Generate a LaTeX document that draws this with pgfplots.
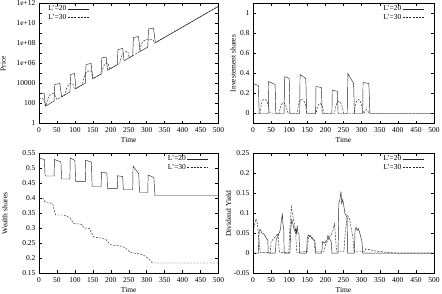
\documentclass[border=0pt]{standalone}
\usepackage{fontspec}
\setmainfont{Liberation Serif}
\usepackage{pgfplots}
\pgfplotsset{compat=1.18}

\newcommand{\smallfont}{\fontsize{7.5}{8.5}\selectfont}

\pgfplotsset{
  panel/.style={
    scale only axis, height=120pt,
    xmin=0, xmax=500, xtick={0,50,...,500},
    tick align=inside, major tick length=3pt, minor tick length=3pt,
    tick style={black, line width=0.4pt},
    axis line style={black, line width=0.5pt},
    ticklabel style={font=\smallfont},
    /pgf/number format/assume math mode=true,
    scaled ticks=false,
    xlabel={Time},
    every axis x label/.style={at={(axis description cs:0.5,0)}, anchor=center, yshift=-17pt, font=\smallfont},
    legend style={draw=none, fill=none, font=\smallfont, inner sep=0pt,
      row sep=-0.3pt, nodes={inner sep=1pt}},
    legend cell align=right, legend plot pos=right,
    legend image code/.code={\draw[##1] (0pt,0pt) -- (21pt,0pt);},
  },
  legTL/.style={legend style={at={(axis description cs:0.045,0.99)}, anchor=north west}},
  legTR/.style={legend style={at={(axis description cs:0.945,0.99)}, anchor=north east}},
  ylab/.style={every axis y label/.style={at={(axis description cs:#1,0.5)}, rotate=90, anchor=center, font=\smallfont}},
  s20/.style={black!85, line width=0.45pt},
  s30/.style={black!85, line width=0.45pt, dash pattern=on 2pt off 1.3pt},
}

\begin{document}
\begin{tikzpicture}
\useasboundingbox (0,0) rectangle (442pt,-294pt);

% ---------------- price ----------------
\begin{axis}[panel, legTL, width=179.5pt, at={(39pt,-3.5pt)}, anchor=north west,
  ymode=log, ymin=1, ymax=1e12,
  ytick={1,100,1e4,1e6,1e8,1e10,1e12},
  yticklabels={1,100,10000,1e+06,1e+08,1e+10,1e+12},
  minor ytick={10,1e3,1e5,1e7,1e9,1e11},
  ylab=-0.2, ylabel={Price}]
\addplot[s20] coordinates {
 (0,8.91e2) (14,1.12e3) (18,5.50e1) (42,1.74e2) (44,7.94e3) (58,1.00e4) (63,4.68e2)
 (86,1.41e3) (88,7.94e4) (99,1.00e5) (103,3.16e3)
 (129,1.10e4) (131,7.94e5) (145,1.00e6) (150,3.02e4)
 (173,8.91e4) (175,3.55e6) (187,4.47e6) (191,2.09e5)
 (218,7.59e5) (220,2.51e7) (233,3.16e7) (237,1.91e6)
 (261,5.89e6) (263,3.98e8) (277,5.01e8) (282,1.62e7)
 (303,4.37e7) (305,2.82e9) (319,3.55e9) (324,1.20e8)
 (500,5.25e11)};
\addlegendentry{L'=20}
\addplot[s30] coordinates {
 (0,3.55e2) (10,3.16e2) (14,1.58e2) (18,5.50e1) (19,5.75e1) (22,1.58e2) (26,3.98e2)
 (31,7.08e2) (38,1.00e3) (43,8.91e2) (47,3.98e2) (50,2.57e2)
 (72,7.24e2) (75,2.00e3) (79,5.01e3) (84,8.91e3) (91,1.12e4) (95,7.94e3) (99,2.63e3)
 (121,7.41e3) (124,2.51e4) (128,7.94e4) (133,1.41e5) (141,2.00e5) (146,1.58e5) (150,3.02e4)
 (174,9.33e4) (177,2.51e5) (181,6.31e5) (186,1.00e6) (192,1.12e6) (197,2.82e5)
 (225,1.07e6) (228,3.16e6) (232,7.94e6) (237,1.26e7) (245,1.78e7) (248,1.26e7) (251,3.72e6)
 (279,1.41e7) (282,3.98e7) (286,1.00e8) (291,1.78e8) (299,2.51e8) (306,2.24e8)
 (312,2.51e8) (318,2.24e8) (322,1.10e8)
 (500,5.25e11)};
\addlegendentry{L'=30}
\end{axis}

% ---------------- investment shares ----------------
\begin{axis}[panel, legTR, width=181pt, at={(253pt,-3.5pt)}, anchor=north west,
  ymin=-0.1, ymax=1.1, ytick={0,0.2,0.4,0.6,0.8,1},
  ylab=-0.11, ylabel={Investement shares}]
\addplot[s20] coordinates {
 (0,0.30) (15,0.28) (17,0) (42,0) (43,0.32) (61,0.29) (63,0) (86,0) (87,0.37) (100,0.35)
 (102,0) (129,0) (130,0.39) (146,0.35) (148,0) (173,0) (174,0.27) (189,0.26) (191,0)
 (218,0) (219,0.235) (233,0.22) (235,0) (261,0) (262,0.40) (278,0.30) (280,0)
 (303,0) (304,0.31) (320,0.30) (323,0) (500,0)};
\addlegendentry{L'=20}
\addplot[s30] coordinates {
 (0,0) (19,0) (22,0.07) (25,0.12) (29,0.14) (34,0.14) (39,0.12) (43,0.06) (46,0.01) (49,0)
 (72,0) (75,0.05) (78,0.09) (83,0.11) (88,0.10) (92,0.07) (95,0.02) (98,0)
 (122,0) (125,0.07) (128,0.12) (133,0.14) (139,0.135) (144,0.10) (147,0.04) (150,0)
 (174,0) (177,0.05) (181,0.09) (186,0.10) (191,0.08) (194,0.03) (197,0)
 (225,0) (228,0.06) (232,0.11) (237,0.12) (242,0.11) (247,0.06) (251,0)
 (279,0) (282,0.07) (286,0.12) (291,0.14) (296,0.13) (300,0.08) (304,0.02) (307,0)
 (310,0.03) (314,0.04) (318,0.02) (321,0) (500,0)};
\addlegendentry{L'=30}
\end{axis}

% ---------------- wealth shares ----------------
\begin{axis}[panel, legTR, width=179.5pt, at={(39pt,-153.5pt)}, anchor=north west,
  ymin=0.15, ymax=0.55, ytick={0.15,0.2,0.25,0.3,0.35,0.4,0.45,0.5,0.55},
  ylab=-0.19, ylabel={Wealth shares}]
\addplot[s20] coordinates {
 (0,0.535) (15,0.530) (17,0.475) (42,0.475) (43,0.530) (61,0.522) (63,0.465) (86,0.465)
 (87,0.535) (100,0.527) (102,0.457) (129,0.457) (130,0.528) (146,0.521) (148,0.440)
 (173,0.440) (174,0.488) (189,0.485) (191,0.433) (218,0.433) (219,0.476) (233,0.473)
 (235,0.430) (261,0.430) (262,0.508) (278,0.482) (280,0.420) (303,0.420) (304,0.478)
 (320,0.470) (323,0.410) (500,0.410)};
\addlegendentry{L'=20}
\addplot[s30] coordinates {
 (0,0.400) (12,0.400) (16,0.390) (22,0.386) (38,0.384) (46,0.345) (70,0.345) (78,0.340)
 (86,0.336) (96,0.317) (118,0.314) (126,0.302) (140,0.300) (152,0.272) (175,0.268)
 (188,0.262) (198,0.246) (225,0.242) (240,0.236) (255,0.220) (282,0.215) (296,0.208)
 (305,0.200) (316,0.185) (500,0.185)};
\addlegendentry{L'=30}
\end{axis}

% ---------------- dividend yield ----------------
\begin{axis}[panel, legTR, width=181pt, at={(253pt,-153.5pt)}, anchor=north west,
  ymin=-0.05, ymax=0.25, ytick={-0.05,0,0.05,0.1,0.15,0.2,0.25},
  yticklabel style={/pgf/number format/fixed},
  ylab=-0.135, ylabel={Dividend Yield}]
\addplot[s20] coordinates {
 (0,0.001) (15,0.001) (17,0.058) (20,0.060) (24,0.052) (28,0.050) (33,0.045) (38,0.036)
 (41,0.034) (42,0.001) (62,0.001) (64,0.035) (67,0.040) (70,0.048) (73,0.052) (76,0.062)
 (78,0.078) (81,0.100) (83,0.072) (85,0.060) (86,0.001) (102,0.001) (104,0.060)
 (107,0.085) (110,0.075) (113,0.062) (116,0.055) (118,0.062) (120,0.050) (122,0.070)
 (124,0.052) (127,0.048) (129,0.001) (148,0.001) (150,0.040) (153,0.046) (156,0.043)
 (159,0.044) (162,0.038) (165,0.036) (168,0.034) (171,0.032) (173,0.001) (190,0.001)
 (192,0.030) (195,0.028) (198,0.026) (201,0.030) (204,0.032) (207,0.045) (210,0.038)
 (213,0.035) (216,0.030) (218,0.001) (235,0.001) (237,0.125) (240,0.135) (243,0.155)
 (245,0.125) (248,0.135) (251,0.118) (254,0.100) (257,0.095) (260,0.090) (261,0.001)
 (280,0.001) (282,0.060) (285,0.065) (288,0.058) (291,0.062) (294,0.055) (298,0.040)
 (301,0.030) (303,0.001) (500,0.001)};
\addlegendentry{L'=20}
\addplot[s30] coordinates {
 (0,0.055) (4,0.070) (8,0.087) (12,0.075) (15,0.050) (18,0.020) (20,0.003) (48,0.003)
 (50,0.030) (55,0.035) (60,0.040) (65,0.045) (70,0.050) (72,0.010) (74,0.003) (99,0.003)
 (101,0.050) (104,0.090) (106,0.117) (109,0.100) (113,0.080) (117,0.060) (121,0.003)
 (150,0.005) (153,0.040) (158,0.045) (163,0.040) (168,0.035) (172,0.005) (196,0.005)
 (200,0.020) (205,0.030) (210,0.040) (215,0.045) (220,0.055) (225,0.075) (228,0.040)
 (231,0.005) (251,0.005) (253,0.030) (256,0.060) (259,0.085) (262,0.095) (265,0.090)
 (268,0.080) (272,0.060) (276,0.040) (279,0.005) (307,0.005) (312,0.012) (320,0.010)
 (330,0.008) (340,0.006) (360,0.004) (380,0.002) (400,0.001) (500,0.001)};
\addlegendentry{L'=30}
\end{axis}
\end{tikzpicture}
\end{document}
